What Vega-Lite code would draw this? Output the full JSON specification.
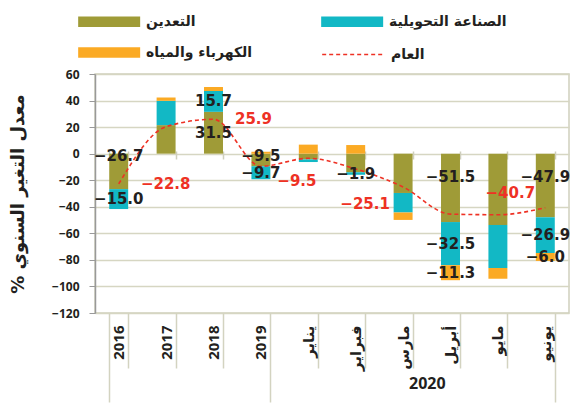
{
"$schema":"https://vega.github.io/schema/vega-lite/v6.json",
"width":474,"height":239,
"autosize":{"type":"none"},
"padding":{"left":95,"top":74,"right":4,"bottom":90},
"background":"white",
"config":{
 "view":{"stroke":"#cfcfbd","strokeWidth":1.5},
 "font":"DejaVu Sans",
 "axis":{"labelFont":"Open Sans, DejaVu Sans","labelFontWeight":"bold","labelColor":"#231f20","titleColor":"#231f20"},
 "axisY":{"tickCount":10,"labelOverlap":false},
 "legend":{"labelFont":"DejaVu Sans","labelFontWeight":"bold","labelFontSize":14,"labelColor":"#231f20"}
},
"resolve":{"axis":{"x":"independent"}},
"datasets":{
 "bars":[
  {"cat":"2016","series":"التعدين","ord":1,"value":-26.7,"show":true},
  {"cat":"2016","series":"الصناعة التحويلية","ord":2,"value":-15.0,"show":true},
  {"cat":"2016","series":"الكهرباء والمياه","ord":3,"value":0,"show":false},
  {"cat":"2017","series":"التعدين","ord":1,"value":21.5,"show":false},
  {"cat":"2017","series":"الصناعة التحويلية","ord":2,"value":18.3,"show":false},
  {"cat":"2017","series":"الكهرباء والمياه","ord":3,"value":2.5,"show":false},
  {"cat":"2018","series":"التعدين","ord":1,"value":31.5,"show":true},
  {"cat":"2018","series":"الصناعة التحويلية","ord":2,"value":15.7,"show":true},
  {"cat":"2018","series":"الكهرباء والمياه","ord":3,"value":3.0,"show":false},
  {"cat":"2019","series":"التعدين","ord":1,"value":-9.5,"show":true},
  {"cat":"2019","series":"الصناعة التحويلية","ord":2,"value":-9.7,"show":true},
  {"cat":"2019","series":"الكهرباء والمياه","ord":3,"value":1.5,"show":false},
  {"cat":"يناير","series":"التعدين","ord":1,"value":-4.3,"show":false},
  {"cat":"يناير","series":"الصناعة التحويلية","ord":2,"value":-2.0,"show":false},
  {"cat":"يناير","series":"الكهرباء والمياه","ord":3,"value":6.8,"show":false},
  {"cat":"فبراير","series":"التعدين","ord":1,"value":-14.0,"show":false},
  {"cat":"فبراير","series":"الصناعة التحويلية","ord":2,"value":-1.9,"show":true},
  {"cat":"فبراير","series":"الكهرباء والمياه","ord":3,"value":6.5,"show":false},
  {"cat":"مارس","series":"التعدين","ord":1,"value":-29.6,"show":false},
  {"cat":"مارس","series":"الصناعة التحويلية","ord":2,"value":-14.7,"show":false},
  {"cat":"مارس","series":"الكهرباء والمياه","ord":3,"value":-5.6,"show":false},
  {"cat":"أبريل","series":"التعدين","ord":1,"value":-51.5,"show":true},
  {"cat":"أبريل","series":"الصناعة التحويلية","ord":2,"value":-32.5,"show":true},
  {"cat":"أبريل","series":"الكهرباء والمياه","ord":3,"value":-11.3,"show":true},
  {"cat":"مايو","series":"التعدين","ord":1,"value":-53.7,"show":false},
  {"cat":"مايو","series":"الصناعة التحويلية","ord":2,"value":-32.4,"show":false},
  {"cat":"مايو","series":"الكهرباء والمياه","ord":3,"value":-8.1,"show":false},
  {"cat":"يونيو","series":"التعدين","ord":1,"value":-47.9,"show":true},
  {"cat":"يونيو","series":"الصناعة التحويلية","ord":2,"value":-26.9,"show":true},
  {"cat":"يونيو","series":"الكهرباء والمياه","ord":3,"value":-6.0,"show":true}
 ],
 "line":[
  {"cat":"2016","series":"العام","value":-22.8},
  {"cat":"2017","series":"العام","value":20.3},
  {"cat":"2018","series":"العام","value":25.9},
  {"cat":"2019","series":"العام","value":-9.5},
  {"cat":"يناير","series":"العام","value":-3.5},
  {"cat":"فبراير","series":"العام","value":-11.5},
  {"cat":"مارس","series":"العام","value":-25.1},
  {"cat":"أبريل","series":"العام","value":-45.5},
  {"cat":"مايو","series":"العام","value":-46.0},
  {"cat":"يونيو","series":"العام","value":-40.7}
 ]
},
"encoding":{
 "x":{"field":"cat","type":"nominal","sort":null,
  "scale":{"domain":["2016","2017","2018","2019","يناير","فبراير","مارس","أبريل","مايو","يونيو"],"paddingInner":0.6,"paddingOuter":0.3},
  "axis":{"title":"2020","titleX":331.8,"titleY":70,"titleAngle":0,"titleAlign":"center","titleBaseline":"middle","titleFontSize":16,"titleFont":"Open Sans, DejaVu Sans","titleFontWeight":"bold",
   "labelAngle":-90,"labelFontSize":15,"labelOverlap":false,
   "labelPadding":{"condition":{"test":"datum.value === '2019' || datum.value === 'يونيو' || !!datum.extra","value":-77},"value":-43},
   "tickBand":"extent",
   "tickSize":{"condition":{"test":"datum.value === '2019' || datum.value === 'يونيو' || !!datum.extra","value":89},"value":55},
   "tickColor":"#d3d3c0","tickWidth":1.5,"domain":false,"grid":false}}
},
"layer":[
 {"data":{"name":"bars"},"mark":{"type":"bar"},
  "encoding":{
   "y":{"field":"value","type":"quantitative","stack":"zero","scale":{"domain":[-120,60],"nice":false},
    "axis":{"title":"% معدل التغير السنوي","titleFontSize":18,"titleFont":"DejaVu Sans","titleFontWeight":"bold","titlePadding":24,
     "values":[60,40,20,0,-20,-40,-60,-80,-100,-120],"tickCount":10,"labelOverlap":false,"labelFontSize":12,"labelPadding":10,"tickSize":6,"tickColor":"#999999","domainColor":"#999999","domainWidth":1.5,"gridColor":"#d6d6c2","gridWidth":1.5}},
   "color":{"field":"series","type":"nominal",
    "scale":{"domain":["التعدين","الصناعة التحويلية","الكهرباء والمياه"],"range":["#9f9b37","#12b8c5","#fbaa24"]},
    "legend":{"title":null,"orient":"none","legendX":-17,"legendY":-63,"direction":"horizontal","columns":2,"columnPadding":68,"rowPadding":13,
     "symbolType":"M-1,-0.5L5,-0.5L5,0.5L-1,0.5Z","symbolSize":427,"symbolStrokeWidth":0,"labelOffset":47}},
   "order":{"field":"ord","type":"quantitative"}
  }},
 {"data":{"name":"line"},"mark":{"type":"line","strokeDash":[4,3],"strokeWidth":1.6,"interpolate":"monotone"},
  "encoding":{
   "x":{"field":"cat","type":"nominal","sort":null,"axis":{"orient":"bottom","offset":-162,"labels":false,"title":null,"tickBand":"extent","tickSize":8,"tickColor":"#cfcfbd","tickWidth":1.5,"domain":false,"grid":false}},
   "y":{"field":"value","type":"quantitative"},
   "stroke":{"field":"series","type":"nominal","scale":{"range":["#ee3124"]},
    "legend":{"title":null,"orient":"none","legendX":226,"legendY":-31,"symbolType":"M-1,0L5,0","symbolSize":427,"symbolStrokeWidth":1.6,"symbolDash":[4,3],"symbolFillColor":"transparent","labelOffset":47}}
  }},
 {"data":{"name":"bars"},
  "transform":[{"stack":"value","groupby":["cat"],"sort":[{"field":"ord","order":"ascending"}],"as":["v0","v1"]},{"calculate":"(datum.v0+datum.v1)/2","as":"mid"},{"filter":"datum.show && (datum.ord != 1 || datum.cat == '2018')"}],
  "mark":{"type":"text","font":"DejaVu Sans","fontWeight":"bold","fontSize":15,"color":"#231f20"},
  "encoding":{"x":{"field":"cat","type":"nominal","sort":null,"axis":null},"y":{"field":"mid","type":"quantitative"},"text":{"field":"value","type":"quantitative","format":".1f"}}},
 {"data":{"name":"bars"},
  "transform":[{"stack":"value","groupby":["cat"],"sort":[{"field":"ord","order":"ascending"}],"as":["v0","v1"]},{"filter":"datum.show && datum.ord == 1 && (datum.cat == '2016' || datum.cat == '2019')"}],
  "mark":{"type":"text","font":"DejaVu Sans","fontWeight":"bold","fontSize":15,"color":"#231f20","dy":2},
  "encoding":{"x":{"field":"cat","type":"nominal","sort":null,"axis":null},"y":{"field":"v0","type":"quantitative"},"text":{"field":"value","type":"quantitative","format":".1f"}}},
 {"data":{"name":"bars"},
  "transform":[{"stack":"value","groupby":["cat"],"sort":[{"field":"ord","order":"ascending"}],"as":["v0","v1"]},{"filter":"datum.show && datum.ord == 1 && (datum.cat == 'أبريل' || datum.cat == 'يونيو')"}],
  "mark":{"type":"text","font":"DejaVu Sans","fontWeight":"bold","fontSize":15,"color":"#231f20","dy":23},
  "encoding":{"x":{"field":"cat","type":"nominal","sort":null,"axis":null},"y":{"field":"v0","type":"quantitative"},"text":{"field":"value","type":"quantitative","format":".1f"}}},
 {"data":{"name":"line"},"transform":[{"filter":"datum.cat == '2016'"}],
  "mark":{"type":"text","font":"DejaVu Sans","fontWeight":"bold","fontSize":15,"color":"#ee3124","dx":47,"dy":0},
  "encoding":{"x":{"field":"cat","type":"nominal","sort":null,"axis":null},"y":{"field":"value","type":"quantitative"},"text":{"field":"value","type":"quantitative","format":".1f"}}},
 {"data":{"name":"line"},"transform":[{"filter":"datum.cat == '2018'"}],
  "mark":{"type":"text","font":"DejaVu Sans","fontWeight":"bold","fontSize":15,"color":"#ee3124","dx":40,"dy":0},
  "encoding":{"x":{"field":"cat","type":"nominal","sort":null,"axis":null},"y":{"field":"value","type":"quantitative"},"text":{"field":"value","type":"quantitative","format":".1f"}}},
 {"data":{"name":"line"},"transform":[{"filter":"datum.cat == '2019'"}],
  "mark":{"type":"text","font":"DejaVu Sans","fontWeight":"bold","fontSize":15,"color":"#ee3124","dx":36,"dy":15},
  "encoding":{"x":{"field":"cat","type":"nominal","sort":null,"axis":null},"y":{"field":"value","type":"quantitative"},"text":{"field":"value","type":"quantitative","format":".1f"}}},
 {"data":{"name":"line"},"transform":[{"filter":"datum.cat == 'مارس'"}],
  "mark":{"type":"text","font":"DejaVu Sans","fontWeight":"bold","fontSize":15,"color":"#ee3124","dx":-38,"dy":17},
  "encoding":{"x":{"field":"cat","type":"nominal","sort":null,"axis":null},"y":{"field":"value","type":"quantitative"},"text":{"field":"value","type":"quantitative","format":".1f"}}},
 {"data":{"name":"line"},"transform":[{"filter":"datum.cat == 'يونيو'"}],
  "mark":{"type":"text","font":"DejaVu Sans","fontWeight":"bold","fontSize":15,"color":"#ee3124","dx":-35,"dy":-15},
  "encoding":{"x":{"field":"cat","type":"nominal","sort":null,"axis":null},"y":{"field":"value","type":"quantitative"},"text":{"field":"value","type":"quantitative","format":".1f"}}}
]
}
